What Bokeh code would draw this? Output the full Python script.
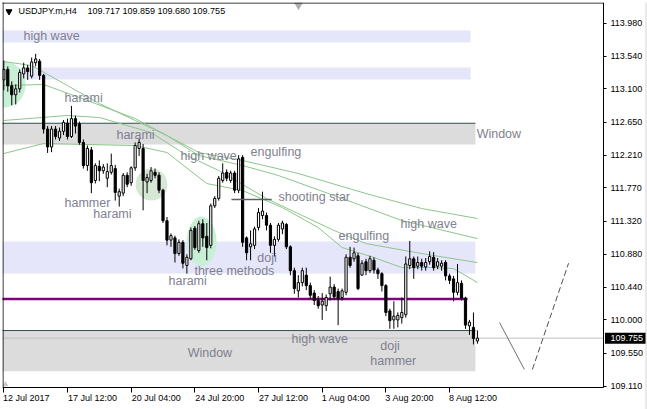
from bokeh.plotting import figure
from bokeh.models import FixedTicker, PrintfTickFormatter, Range1d, LinearAxis
from bokeh.embed import file_html
from bokeh.resources import INLINE
from bokeh.core.properties import value

# ---------------- data ----------------
symbol_title = "USDJPY.m,H4"
last_ohlc_text = "109.717 109.859 109.680 109.755"
last_price = 109.755

opens = [113.22, 113.36, 113.14, 113.02, 113.10, 113.30, 113.38, 113.27, 113.45, 113.47,
         113.28, 112.56, 112.32, 112.56, 112.44, 112.53, 112.64, 112.46, 112.70, 112.63,
         112.38, 112.07, 112.28, 111.87, 112.06, 112.00, 111.90, 111.98, 112.03, 111.66,
         111.70, 111.94, 111.84, 112.04, 112.30, 112.30, 111.85, 111.87, 111.98, 111.94,
         111.74, 111.33, 111.07, 111.10, 110.89, 111.04, 110.73, 110.82, 111.23, 110.93,
         111.29, 111.12, 111.00, 111.53, 111.63, 111.87, 111.98, 111.87, 111.97, 111.74,
         112.18, 111.10, 110.98, 111.00, 111.24, 111.40, 111.40, 111.27, 111.00, 111.08,
         111.22, 111.28, 110.98, 110.66, 110.39, 110.50, 110.60, 110.46, 110.36, 110.26,
         110.20, 110.19, 110.35, 110.44, 110.38, 110.30, 110.37, 110.84, 110.82, 110.86,
         110.60, 110.78, 110.66, 110.80, 110.67, 110.62, 110.46, 110.12, 110.00, 110.00,
         110.03, 110.07, 110.73, 110.82, 110.72, 110.77, 110.71, 110.78, 110.84, 110.72,
         110.72, 110.77, 110.59, 110.55, 110.37, 110.49, 110.29, 109.92, 109.90, 109.717]
highs = [113.48, 113.40, 113.20, 113.16, 113.36, 113.45, 113.42, 113.52, 113.57, 113.50,
         113.30, 112.60, 112.60, 112.60, 112.58, 112.68, 112.70, 112.87, 112.74, 112.66,
         112.42, 112.34, 112.32, 112.10, 112.14, 112.09, 112.10, 112.23, 112.08, 111.76,
         111.97, 111.98, 112.06, 112.38, 112.43, 112.36, 111.96, 112.05, 112.03, 111.98,
         111.76, 111.38, 111.16, 111.13, 111.08, 111.07, 110.88, 111.24, 111.26, 111.33,
         111.35, 111.30, 111.56, 111.66, 111.93, 112.10, 112.02, 112.00, 112.00, 112.21,
         112.21, 111.12, 111.20, 111.25, 111.50, 111.72, 111.44, 111.30, 111.12, 111.30,
         111.33, 111.30, 111.00, 110.70, 110.60, 110.70, 110.70, 110.50, 110.40, 110.32,
         110.36, 110.34, 110.58, 110.48, 110.42, 110.42, 110.88, 110.98, 110.97, 110.90,
         110.80, 110.82, 110.86, 110.84, 110.70, 110.64, 110.48, 110.15, 110.25, 110.10,
         110.30, 110.85, 111.06, 110.85, 110.85, 110.82, 110.83, 110.92, 110.91, 110.83,
         110.80, 110.80, 110.62, 110.59, 110.75, 110.53, 110.31, 110.00, 110.10, 109.859]
lows = [113.08, 113.06, 112.88, 112.89, 113.05, 113.24, 113.22, 113.24, 113.40, 113.22,
        112.50, 112.24, 112.25, 112.42, 112.40, 112.48, 112.42, 112.44, 112.50, 112.35,
        112.03, 112.00, 111.70, 111.83, 111.86, 111.96, 111.78, 111.95, 111.60, 111.52,
        111.66, 111.78, 111.80, 112.00, 112.20, 111.47, 111.70, 111.84, 111.90, 111.70,
        111.30, 111.00, 110.98, 110.77, 110.86, 110.69, 110.62, 110.80, 110.94, 110.90,
        110.98, 110.80, 110.96, 111.50, 111.60, 111.84, 111.86, 111.84, 111.70, 111.70,
        110.98, 110.80, 110.80, 110.95, 111.20, 111.35, 111.20, 110.90, 110.85, 111.05,
        111.15, 110.95, 110.60, 110.35, 110.30, 110.45, 110.40, 110.28, 110.20, 110.15,
        110.00, 110.12, 110.26, 110.27, 109.93, 110.26, 110.33, 110.70, 110.78, 110.40,
        110.60, 110.60, 110.63, 110.62, 110.55, 110.38, 110.05, 109.88, 109.88, 109.90,
        109.95, 110.03, 110.68, 110.55, 110.68, 110.66, 110.66, 110.74, 110.66, 110.68,
        110.66, 110.53, 110.48, 110.25, 110.33, 110.26, 109.88, 109.80, 109.67, 109.680]
closes = [113.36, 113.14, 113.02, 113.10, 113.32, 113.38, 113.33, 113.46, 113.50, 113.28,
          112.56, 112.32, 112.56, 112.46, 112.53, 112.65, 112.46, 112.70, 112.60, 112.38,
          112.07, 112.30, 111.84, 112.07, 112.00, 112.05, 111.99, 112.07, 111.71, 111.72,
          111.94, 111.82, 112.04, 112.34, 112.38, 111.87, 111.91, 112.00, 111.94, 111.74,
          111.33, 111.07, 111.13, 110.89, 111.04, 110.76, 110.84, 111.20, 110.97, 111.29,
          111.10, 110.97, 111.53, 111.63, 111.90, 111.97, 111.90, 111.97, 111.74, 112.16,
          111.04, 110.90, 111.02, 111.22, 111.44, 111.46, 111.27, 111.00, 111.08, 111.27,
          111.30, 110.98, 110.66, 110.42, 110.50, 110.66, 110.46, 110.33, 110.26, 110.19,
          110.25, 110.30, 110.44, 110.31, 110.28, 110.39, 110.84, 110.73, 110.90, 110.42,
          110.76, 110.66, 110.82, 110.67, 110.62, 110.46, 110.10, 109.99, 110.05, 110.06,
          110.10, 110.75, 110.82, 110.70, 110.77, 110.72, 110.77, 110.85, 110.70, 110.78,
          110.76, 110.59, 110.53, 110.37, 110.50, 110.29, 109.93, 109.97, 109.75, 109.755]
bars = list(range(len(closes)))

# moving averages (at sample bars)
ma1_bars = [0, 7, 16, 24, 33, 41, 49, 60, 74, 91, 105, 119]
ma1_vals = [113.466, 113.412, 113.144, 112.903, 112.675, 112.473, 112.245, 112.138, 111.964, 111.695, 111.494, 111.360]
ma2_bars = [0, 10, 21, 33, 41, 49, 60, 69, 83, 100, 119]
ma2_vals = [113.144, 113.158, 112.943, 112.701, 112.473, 112.205, 112.071, 111.937, 111.668, 111.333, 111.091]
ma3_bars = [0, 16, 24, 37, 46, 54, 66, 75, 83, 91, 105, 119]
ma3_vals = [112.675, 112.742, 112.715, 112.514, 112.205, 112.004, 111.628, 111.400, 111.199, 111.024, 110.890, 110.769]
ma4_bars = [0, 10, 33, 41, 51, 60, 70, 79, 85, 93, 100, 108, 113, 119]
ma4_vals = [112.232, 112.366, 112.339, 112.245, 111.829, 111.735, 111.507, 111.239, 110.971, 110.836, 110.702, 110.702, 110.689, 110.501]

# zones (rectangles)
zone_left = [-1, -1, -1, -1, -1]
zone_right = [117.3, 117.3, 118.5, 118.5, 118.5]
zone_bottom = [113.721, 113.225, 112.353, 110.622, 109.311]
zone_top = [113.882, 113.386, 112.638, 111.051, 109.857]
zone_kind = ["lavender", "lavender", "gray", "lavender", "gray"]
window_levels = [112.638, 109.857]
window_right = 118.5
purple_level = 110.280
purple_right = 116.5

# highlight ellipses
ell_x = [0.2, 37.1, 49.7]
ell_y = [113.158, 111.816, 111.051]
ell_w = [10.6, 8.0, 7.5]
ell_h = [0.62, 0.43, 0.67]
ell_color = ["#c9efd6", "#d6e7d6", "#c9efd6"]

# pattern labels
label_text = ["high wave", "harami", "harami", "high wave", "engulfing", "shooting star",
              "hammer", "harami", "engulfing", "high wave", "doji", "three methods",
              "harami", "Window", "high wave", "doji", "Window", "hammer"]
label_bar = [4.95, 15.25, 28.3, 44.4, 62.0, 69.0, 15.25, 22.5, 84.1, 99.7, 63.7, 47.9,
             41.4, 118.8, 72.3, 94.6, 46.2, 92.1]
label_price = [113.802, 112.983, 112.487, 112.205, 112.259, 111.655, 111.574, 111.427,
               111.132, 111.293, 110.836, 110.662, 110.528, 112.500, 109.750, 109.656,
               109.549, 109.455]

# shooting-star marker line and projection lines
star_line_bars = [57.2, 67.3]
star_line_price = 111.615
proj1_bars = [124.55, 130.8]
proj1_price = [109.965, 109.334]
proj2_bars = [132.8, 141.9]
proj2_price = [109.334, 110.760]

# axes
y_ticks = [113.98, 113.54, 113.10, 112.65, 112.21, 111.77, 111.32, 110.88, 110.44, 110.00, 109.55, 109.11]
x_tick_bars = [0, 16, 32, 48, 64, 80, 96, 112]
x_tick_labels = ["12 Jul 2017", "17 Jul 12:00", "20 Jul 04:00", "24 Jul 20:00",
                 "27 Jul 12:00", "1 Aug 04:00", "3 Aug 20:00", "8 Aug 12:00"]

# ---------------- layout constants (pixels -> data) ----------------
PX_PER_BAR = 3.98
BAR0_PX = 3.3
PRICE_PER_PX = 0.013416
CHART_BOTTOM = 109.093                 # price at canvas y = 387 (time scale line)
X_START, X_END = -0.327, 161.73        # frame spans canvas x 2..647
Y_END = 114.258                        # price at canvas y = 2
Y_START = Y_END - 407 * PRICE_PER_PX   # frame spans canvas y 2..409
def bx(px):
    return (px - BAR0_PX) / PX_PER_BAR
AXIS_BAR = bx(603)                     # price scale sits at x = 603
def py(pxy):
    return Y_END - (pxy - 2) * PRICE_PER_PX

FONT = "Liberation Sans"
p = figure(width=647, height=409, output_backend="svg", toolbar_location=None,
           x_range=Range1d(X_START, X_END), y_range=Range1d(Y_START, Y_END),
           x_axis_location=None, y_axis_location=None,
           min_border_left=2, min_border_right=0, min_border_top=2, min_border_bottom=0)
p.background_fill_color = "white"
p.border_fill_color = "white"
p.outline_line_color = None
p.grid.visible = False

zone_fill = ["#e6e6fa" if k == "lavender" else "#dcdcdc" for k in zone_kind]
p.quad(left=zone_left, right=zone_right, bottom=zone_bottom, top=zone_top,
       fill_color=zone_fill, line_color=None)
p.segment(x0=[-1] * len(window_levels), x1=[window_right] * len(window_levels),
          y0=window_levels, y1=window_levels, line_color="#2f4f4f", line_width=1)

# bid line
p.segment(x0=[-1], x1=[AXIS_BAR], y0=[last_price], y1=[last_price], line_color="#c0c0c0", line_width=1)

p.ellipse(x=ell_x, y=ell_y, width=ell_w, height=ell_h, fill_color=ell_color, line_color=None)

ma_color = "#8cc68c"
for xb, yv in [(ma1_bars, ma1_vals), (ma2_bars, ma2_vals), (ma3_bars, ma3_vals), (ma4_bars, ma4_vals)]:
    p.line(xb, yv, line_color=ma_color, line_width=1)

p.segment(x0=[-1], x1=[purple_right], y0=[purple_level], y1=[purple_level],
          line_color="#800080", line_width=2.5)

# candles
body_top = [max(o, c) for o, c in zip(opens, closes)]
body_bot = [min(o, c) for o, c in zip(opens, closes)]
body_fill = ["white" if c >= o else "black" for o, c in zip(opens, closes)]
p.segment(x0=bars, y0=lows, x1=bars, y1=highs, line_color="black", line_width=1)
p.vbar(x=bars, width=0.55, top=body_top, bottom=body_bot, fill_color=body_fill,
       line_color="black", line_width=1)

p.line(star_line_bars, [star_line_price] * 2, line_color="#606060", line_width=1.5)
p.line(proj1_bars, proj1_price, line_color="#707070", line_width=1)
p.line(proj2_bars, proj2_price, line_color="#505050", line_width=1, line_dash="6 3")

p.text(x=label_bar, y=label_price, text=label_text, text_font=value(FONT),
       text_font_size="12.5px", text_color="#7f7f8f", text_baseline="middle", text_align="left")

# header
p.text(x=[bx(18), bx(87)], y=[py(10)] * 2, text=[symbol_title, last_ohlc_text], text_font=value(FONT),
       text_font_size="9px", text_color="black", text_baseline="middle", text_align="left")
p.scatter(x=[bx(8.5)], y=[py(11)], marker="inverted_triangle", size=6,
          fill_color="black", line_color="black")
p.scatter(x=[bx(298)], y=[py(4.5)], marker="inverted_triangle", size=9,
          fill_color="#b0b0b0", line_color=None)
p.scatter(x=[bx(5)], y=[py(384)], marker="triangle", size=6,
          fill_color="#c8c8c8", line_color=None)

# frame borders (left and top); bottom = time axis line, right = price axis line
p.segment(x0=[bx(2.5), -1], x1=[bx(2.5), AXIS_BAR], y0=[CHART_BOTTOM, py(2.5)], y1=[Y_END + 1, py(2.5)],
          line_color="black", line_width=1)
# window edge on the far right
p.segment(x0=[bx(645.5)], x1=[bx(645.5)], y0=[Y_START - 1], y1=[Y_END + 1],
          line_color="#d4d4d4", line_width=1)

# current price tag on the price scale
p.quad(left=[bx(604.5)], right=[bx(645)], bottom=[last_price - 5.5 * PRICE_PER_PX],
       top=[last_price + 5.5 * PRICE_PER_PX], fill_color="black", line_color=None)
p.text(x=[bx(610)], y=[last_price], text=[f"{last_price:.3f}"], text_font=value(FONT),
       text_font_size="9px", text_color="white", text_baseline="middle", text_align="left")

# price axis (right, fixed at x = 603)
yax = LinearAxis(fixed_location=AXIS_BAR)
yax.ticker = FixedTicker(ticks=y_ticks)
yax.formatter = PrintfTickFormatter(format="%.3f")
yax.bounds = (CHART_BOTTOM, Y_END)
yax.major_tick_in = 0
yax.major_tick_out = 3
yax.minor_tick_line_color = None
yax.major_label_standoff = 4
yax.major_label_text_font = FONT
yax.major_label_text_font_size = "9px"
yax.major_label_text_color = "black"
yax.axis_line_color = "black"
p.add_layout(yax, "right")

# time axis: labels start at their tick (MT4 style) -> pad on the left with no-break spaces
char_w = {" ": 2.5, ":": 2.5, "J": 4.5, "u": 5.0, "l": 2.0, "A": 6.0, "g": 5.0}
def left_pad(s, first=False):
    if first:
        return "\u00a0" + s
    w = sum(char_w.get(ch, 5.0) for ch in s)
    return "\u00a0" * int(round(w / 2.5)) + s

xax = LinearAxis(fixed_location=CHART_BOTTOM)
xax.ticker = FixedTicker(ticks=x_tick_bars)
xax.major_label_overrides = {b: left_pad(t, i == 0) for i, (b, t) in enumerate(zip(x_tick_bars, x_tick_labels))}
xax.bounds = (X_START, AXIS_BAR)
xax.major_tick_in = 0
xax.major_tick_out = 5
xax.minor_tick_line_color = None
xax.major_label_standoff = 1
xax.major_label_text_font = FONT
xax.major_label_text_font_size = "9px"
xax.major_label_text_color = "black"
xax.axis_line_color = "black"
p.add_layout(xax, "below")

html = file_html(p, INLINE, title="USDJPY.m,H4")
html = html.replace("<head>", "<head><style>html,body{margin:0;padding:0;overflow:hidden;}</style>", 1)
open("out.html", "w").write(html)
